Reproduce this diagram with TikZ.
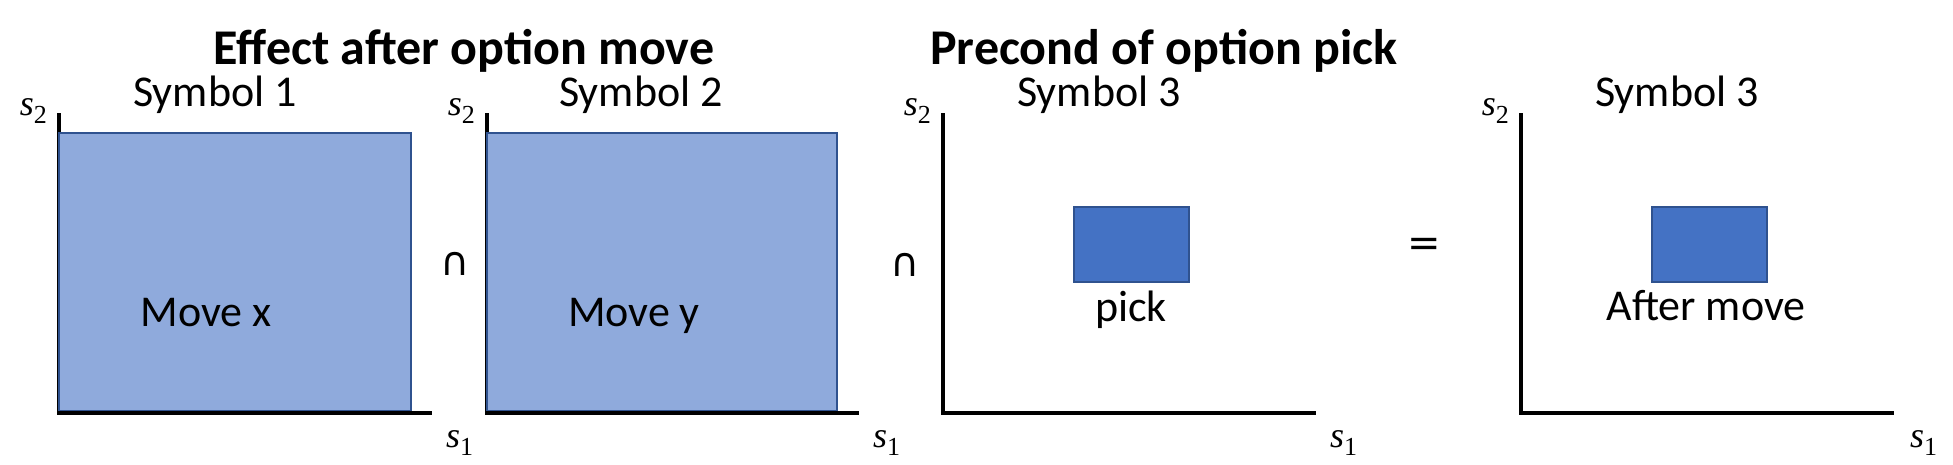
\documentclass[tikz,border=0pt]{standalone}
\usepackage{fontspec}
\setmainfont{Carlito}
\newfontfamily\serifvar{Liberation Serif}
\newfontfamily\symfont{DejaVu Sans}
\newcommand{\svar}[1]{{\itshape s}\raisebox{-8pt}{\fontsize{26}{30}\selectfont #1}}
\definecolor{bigfill}{HTML}{8FAADC}
\definecolor{smallfill}{HTML}{4472C4}
\definecolor{edgeblue}{HTML}{2F528F}
\begin{document}
\begin{tikzpicture}[x=1pt,y=-1pt,
  txt/.style={font=\fontsize{44}{52}\selectfont, inner sep=0pt},
  ttl/.style={font=\fontsize{50}{58}\selectfont\bfseries, inner sep=0pt},
  lab/.style={font=\serifvar\fontsize{36}{42}\selectfont, inner sep=0pt},
  sym/.style={font=\symfont\fontsize{40}{48}\selectfont, inner sep=0pt},
  axisline/.style={line width=4.5pt, line join=miter},
  bigbox/.style={fill=bigfill, draw=edgeblue, line width=1.5pt},
  smallbox/.style={fill=smallfill, draw=edgeblue, line width=1.5pt}]
\useasboundingbox (0,0) rectangle (1953,464);

% titles
\node[ttl, anchor=base] (title1) at (464,64) {Effect after option move};
\node[ttl, anchor=base] (title2) at (1164,64) {Precond of option pick};

% panel 1
\draw[axisline] (59,113) -- (59,413) -- (432,413);
\draw[bigbox] (59,133) rectangle (411,410.5);
\node[lab, anchor=base east] (s2a) at (47,115) {\svar{2}};
\node[lab, anchor=base west] (s1a) at (446,447) {\svar{1}};
\node[txt, anchor=base] (sym1) at (215,106) {Symbol 1};
\node[txt, anchor=base] (movex) at (206,326) {Move x};

% intersection 1
\node[sym] (cap1) at (455,264) {∩};

% panel 2
\draw[axisline] (487,113) -- (487,413) -- (859,413);
\draw[bigbox] (487,133) rectangle (837,410.5);
\node[lab, anchor=base east] (s2b) at (475,115) {\svar{2}};
\node[lab, anchor=base west] (s1b) at (873,447) {\svar{1}};
\node[txt, anchor=base] (sym2) at (641,106) {Symbol 2};
\node[txt, anchor=base] (movey) at (634,326) {Move y};

% intersection 2
\node[sym] (cap2) at (905,265) {∩};

% panel 3
\draw[axisline] (943,113) -- (943,413) -- (1316,413);
\draw[smallbox] (1074,207) rectangle (1189,282);
\node[lab, anchor=base east] (s2c) at (931,115) {\svar{2}};
\node[lab, anchor=base west] (s1c) at (1330,447) {\svar{1}};
\node[txt, anchor=base] (sym3) at (1099,106) {Symbol 3};
\node[txt, anchor=base] (pick) at (1131,321) {pick};

% equals
\node[sym, anchor=center] (eq) at (1424,247) {=};

% panel 4
\draw[axisline] (1521,113) -- (1521,413) -- (1894,413);
\draw[smallbox] (1652,207) rectangle (1767,282);
\node[lab, anchor=base east] (s2d) at (1509,115) {\svar{2}};
\node[lab, anchor=base west] (s1d) at (1910,447) {\svar{1}};
\node[txt, anchor=base] (sym4) at (1677,106) {Symbol 3};
\node[txt, anchor=base] (aftermove) at (1706,320) {After move};
\end{tikzpicture}
\end{document}
